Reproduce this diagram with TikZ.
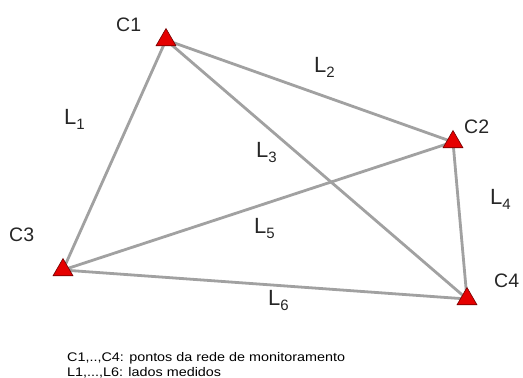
\documentclass[tikz,border=0pt]{standalone}
\usepackage{fontspec}
\setmainfont{Liberation Sans}
\usetikzlibrary{shapes.geometric}
\newcommand{\sidesub}[1]{\raisebox{-5pt}{\fontsize{15}{15}\selectfont #1}}
\begin{document}
\begin{tikzpicture}[x=1pt,y=-1pt,
  side/.style={draw=black!37, line width=2.8pt},
  station/.style={regular polygon, regular polygon sides=3, fill=red!90!black, draw=red!45!black, line width=0.6pt, minimum size=23pt, inner sep=0pt},
  ptlabel/.style={font=\fontsize{19.5}{19.5}\selectfont, text=black!85, inner sep=0pt, anchor=base west},
  sidelabel/.style={font=\fontsize{22}{22}\selectfont, text=black!85, inner sep=0pt, anchor=base west},
  legend/.style={font=\fontsize{12.5}{13}\selectfont, anchor=base west, inner sep=0pt, xscale=1.15}]
\useasboundingbox[fill=white] (0,0) rectangle (523,378);
\coordinate (c1) at (166,40);
\coordinate (c2) at (453,142);
\coordinate (c3) at (63,270);
\coordinate (c4) at (467,299);
\draw[side] (c1) -- (c3);
\draw[side] (c1) -- (c2);
\draw[side] (c1) -- (c4);
\draw[side] (c2) -- (c4);
\draw[side] (c3) -- (c2);
\draw[side] (c3) -- (c4);
\node[station] (s1) at (c1) {};
\node[station] (s2) at (c2) {};
\node[station] (s3) at (c3) {};
\node[station] (s4) at (c4) {};
\node[ptlabel] (n1) at (116,31) {C1};
\node[ptlabel] (n2) at (464,133) {C2};
\node[ptlabel] (n3) at (9,241) {C3};
\node[ptlabel] (n4) at (494,287) {C4};
\node[sidelabel] (l1) at (64,124) {L\sidesub{1}};
\node[sidelabel] (l2) at (314,72) {L\sidesub{2}};
\node[sidelabel] (l3) at (256,157) {L\sidesub{3}};
\node[sidelabel] (l4) at (490,204) {L\sidesub{4}};
\node[sidelabel] (l5) at (254,233) {L\sidesub{5}};
\node[sidelabel] (l6) at (268,305) {L\sidesub{6}};
\node[legend] (g1) at (67,361) {C1,..,C4: pontos da rede de monitoramento};
\node[legend] (g2) at (67,376) {L1,...,L6: lados medidos};
\end{tikzpicture}
\end{document}
